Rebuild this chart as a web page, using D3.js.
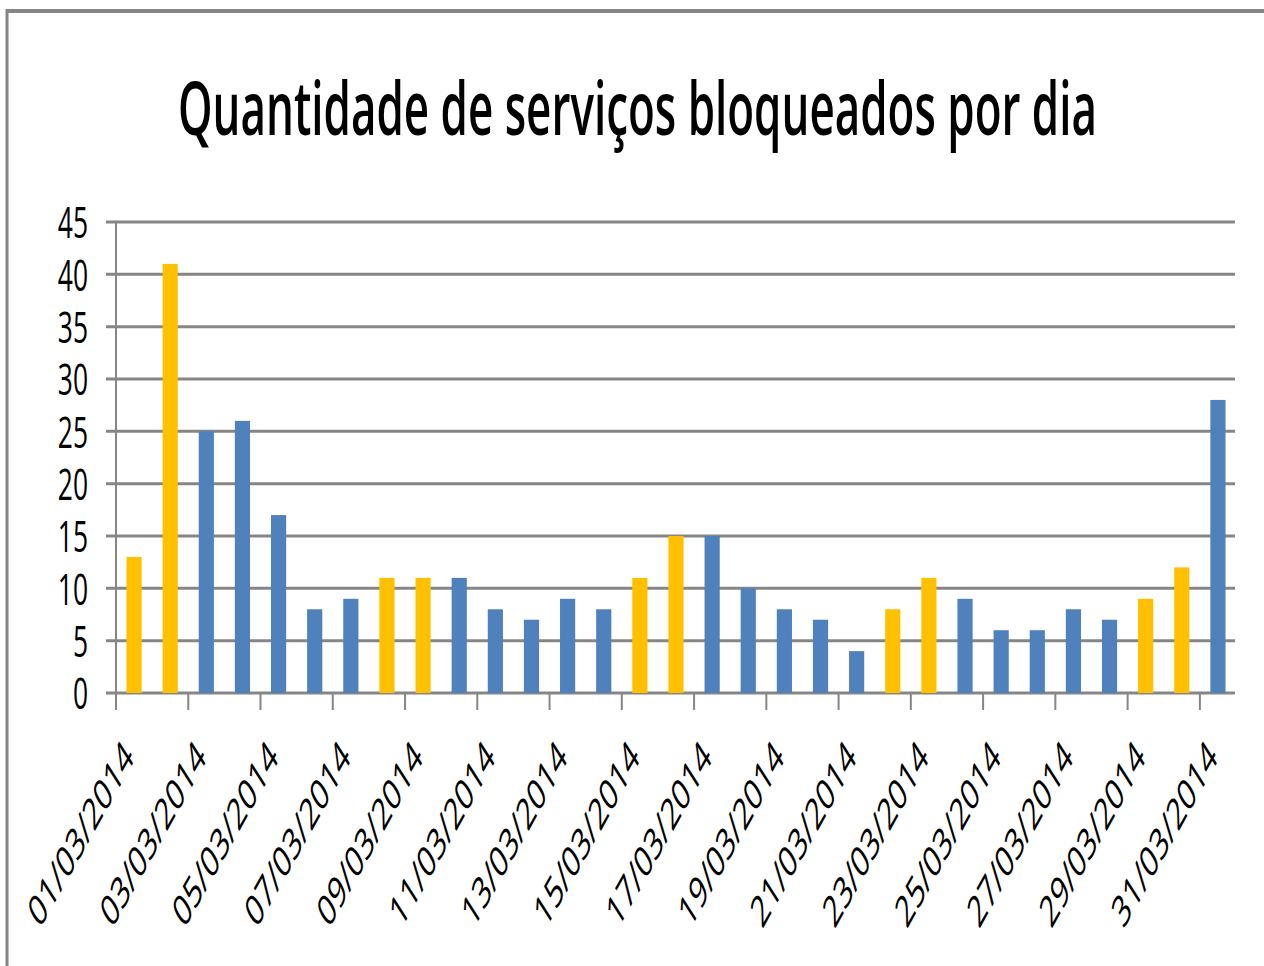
<!DOCTYPE html>
<html>
<head>
<meta charset="utf-8">
<script src="https://cdn.jsdelivr.net/npm/d3@7"></script>
<style>
  body { margin: 0; background: #fff; }
  svg { display: block; }
  text { font-family: "Open Sans", "Liberation Sans", sans-serif; fill: #000; }
</style>
</head>
<body>
<div id="chart-area"></div>
<script>
const days = d3.range(1, 32).map(d => `${String(d).padStart(2, "0")}/03/2014`);
const blocked = [13, 41, 25, 26, 17, 8, 9, 11, 11, 11, 8, 7, 9, 8, 11, 15, 15, 10, 8, 7, 4, 8, 11, 9, 6, 6, 8, 7, 9, 12, 28];
// fins de semana (março/2014 começa num sábado)
const weekend = [1, 1, 0, 0, 0, 0, 0, 1, 1, 0, 0, 0, 0, 0, 1, 1, 0, 0, 0, 0, 0, 1, 1, 0, 0, 0, 0, 0, 1, 1, 0];
const yTicks = [0, 5, 10, 15, 20, 25, 30, 35, 40, 45];
const titleText = "Quantidade de serviços bloqueados por dia";

const svgWidth = 1264;
const svgHeight = 966;
const squeeze = 0.6;          // o gráfico original aparece comprimido na horizontal
const plotLeft = 116, plotRight = 1236, plotTop = 222, plotBottom = 693;

const svg = d3.select("#chart-area")
    .append("svg")
    .attr("width", svgWidth)
    .attr("height", svgHeight);

// moldura (só topo e esquerda visíveis)
svg.append("line")
    .attr("x1", 6).attr("x2", svgWidth).attr("y1", 11).attr("y2", 11)
    .attr("stroke", "#868686").attr("stroke-width", 4);
svg.append("line")
    .attr("x1", 7).attr("x2", 7).attr("y1", 9).attr("y2", svgHeight)
    .attr("stroke", "#868686").attr("stroke-width", 3);

const g = svg.append("g").attr("transform", `scale(${squeeze},1)`);

const xScale = d3.scaleBand()
    .domain(days)
    .range([plotLeft / squeeze, plotRight / squeeze])
    .paddingInner(0.58)
    .paddingOuter(0.29);

const yScale = d3.scaleLinear()
    .domain([0, 45])
    .range([plotBottom, plotTop]);

// grade horizontal
g.append("g")
    .attr("class", "y-grid")
    .selectAll("line")
    .data(yTicks)
    .join("line")
    .attr("x1", (plotLeft - 10) / squeeze)
    .attr("x2", (plotRight - 1) / squeeze)
    .attr("y1", d => yScale(d))
    .attr("y2", d => yScale(d))
    .attr("stroke", "#868686")
    .attr("stroke-width", 3)
    .attr("vector-effect", "non-scaling-stroke");

// eixo vertical
g.append("line")
    .attr("x1", plotLeft / squeeze).attr("x2", plotLeft / squeeze)
    .attr("y1", plotTop).attr("y2", plotBottom + 17)
    .attr("stroke", "#868686")
    .attr("stroke-width", 2)
    .attr("vector-effect", "non-scaling-stroke");

// marcas do eixo x nas divisões, a cada 2 dias
const gap = (xScale.step() - xScale.bandwidth()) / 2;
g.append("g")
    .selectAll("line")
    .data(days.filter((d, i) => i % 2 === 0 && i > 0))
    .join("line")
    .attr("x1", d => xScale(d) - gap)
    .attr("x2", d => xScale(d) - gap)
    .attr("y1", plotBottom)
    .attr("y2", plotBottom + 17)
    .attr("stroke", "#868686")
    .attr("stroke-width", 2)
    .attr("vector-effect", "non-scaling-stroke");

// barras
g.append("g")
    .selectAll("rect")
    .data(days)
    .join("rect")
    .attr("x", d => xScale(d))
    .attr("width", xScale.bandwidth())
    .attr("y", (d, i) => yScale(blocked[i]))
    .attr("height", (d, i) => yScale(0) - yScale(blocked[i]))
    .attr("fill", (d, i) => weekend[i] ? "#FFC000" : "#4F81BD");

// rótulos do eixo y
const yAxis = d3.axisLeft(yScale).tickValues(yTicks).tickSize(0).tickPadding(0);
const yAxisGroup = g.append("g")
    .attr("transform", `translate(${(plotLeft - 28) / squeeze},0)`)
    .call(yAxis);
yAxisGroup.select(".domain").remove();
yAxisGroup.selectAll("text")
    .style("font-family", "'Open Sans', 'Liberation Sans', sans-serif")
    .style("font-size", "44px")
    .attr("dy", "0.36em");

// rótulos do eixo x (rotacionados)
g.append("g")
    .selectAll("text")
    .data(days.filter((d, i) => i % 2 === 0))
    .join("text")
    .attr("transform", d => `translate(${xScale(d) + xScale.bandwidth() / 2 + 2},${plotBottom + 66}) rotate(-47)`)
    .attr("text-anchor", "end")
    .style("font-size", "44px")
    .style("font-family", "'Open Sans', 'Liberation Sans', sans-serif")
    .text(d => d);

// título
svg.append("text")
    .attr("x", 178)
    .attr("y", 135)
    .attr("textLength", 919)
    .attr("lengthAdjust", "spacingAndGlyphs")
    .style("font-size", "74px")
    .style("font-weight", "600")
    .text(titleText);
</script>
</body>
</html>
